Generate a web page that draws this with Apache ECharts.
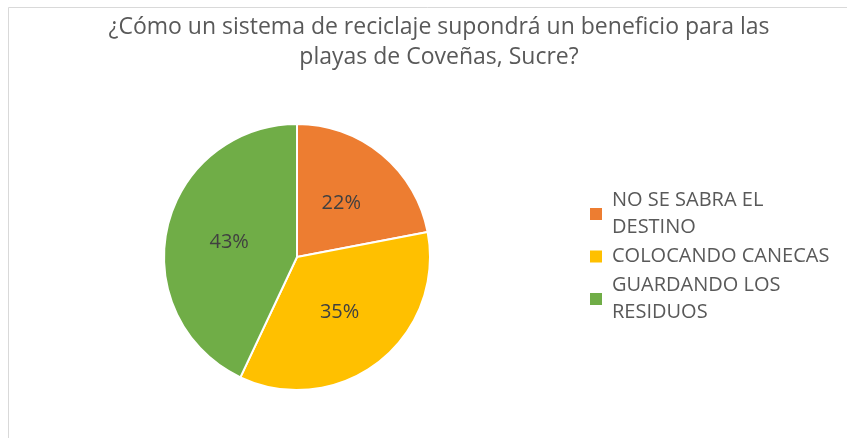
<!DOCTYPE html>
<html><head><meta charset="utf-8">
<script src="https://cdn.jsdelivr.net/npm/echarts@6/dist/echarts.min.js"></script>
<style>html,body{margin:0;padding:0;background:#fff}#c{width:847px;height:438px}</style>
</head><body><div id="c"></div>
<script>
var categories = ['NO SE SABRA EL\nDESTINO', 'COLOCANDO CANECAS', 'GUARDANDO LOS\nRESIDUOS'];
var values = [22, 35, 43];
var colors = ['#ED7D31', '#FFC000', '#70AD47'];
var titleText = '¿Cómo un sistema de reciclaje supondrá un beneficio para las\nplayas de Coveñas, Sucre?';

var chart = echarts.init(document.getElementById('c'));
chart.setOption({
  animation: false,
  backgroundColor: '#fff',
  graphic: [
    {type: 'line', shape: {x1: 8.5, y1: 7.5, x2: 847, y2: 7.5}, style: {stroke: '#d9d9d9', lineWidth: 1}},
    {type: 'line', shape: {x1: 8.5, y1: 7.5, x2: 8.5, y2: 438}, style: {stroke: '#d9d9d9', lineWidth: 1}}
  ],
  title: {
    text: titleText,
    left: 434, top: 7, textAlign: 'center',
    textStyle: {fontFamily: 'Open Sans', fontSize: 23, fontWeight: 'normal', color: '#595959', lineHeight: 30}
  },
  legend: {
    orient: 'vertical', left: 583, top: 182,
    itemWidth: 14, itemHeight: 14, itemGap: 2,
    icon: 'rect',
    textStyle: {fontFamily: 'Open Sans', fontSize: 20, color: '#595959', lineHeight: 27, padding: [0, 0, 0, 4]},
    data: categories
  },
  series: [{
    type: 'pie',
    center: [297, 257],
    radius: [0, 133],
    startAngle: 90,
    clockwise: true,
    avoidLabelOverlap: false,
    itemStyle: {borderColor: '#fff', borderWidth: 2},
    label: {position: 'inside', formatter: '{d}%', fontFamily: 'Open Sans', fontSize: 20, color: '#404040'},
    labelLine: {show: false},
    emphasis: {disabled: true},
    data: categories.map(function (n, i) { return {name: n, value: values[i], itemStyle: {color: colors[i]}}; })
  }]
});
</script></body></html>
